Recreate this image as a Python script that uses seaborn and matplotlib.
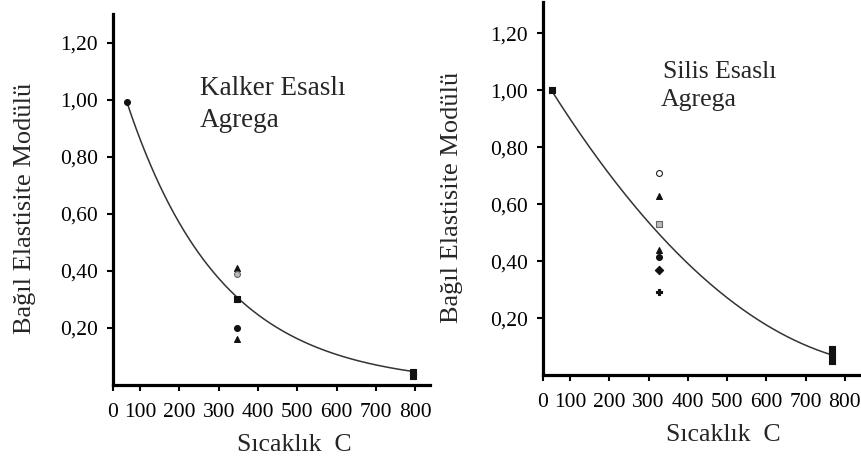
import numpy as np
import pandas as pd
import matplotlib
matplotlib.use("Agg")
import matplotlib.pyplot as plt
import seaborn as sns

sns.set_style("ticks")
plt.rcParams['font.family'] = ['Liberation Serif', 'DejaVu Serif']

# ---- data ----
x_ticks = [100, 200, 300, 400, 500, 600, 700, 800]
y_ticks = [0.20, 0.40, 0.60, 0.80, 1.00, 1.20]
y_tick_labels = ["0,20", "0,40", "0,60", "0,80", "1,00", "1,20"]

kalker_temp = [66, 347, 347, 347, 347, 347, 795, 795]
kalker_val = [0.99, 0.41, 0.39, 0.30, 0.20, 0.16, 0.045, 0.03]
kalker_mark = ["o", "^", "og", "s", "o", "^", "s", "s"]

kalker_curve_temp = [66, 151, 236, 304, 355, 482, 609, 787]
kalker_curve_val = [0.99, 0.716, 0.505, 0.365, 0.306, 0.166, 0.102, 0.049]

silis_temp = [53, 326, 326, 326, 326, 326, 326, 326, 766, 766, 766]
silis_val = [1.00, 0.71, 0.63, 0.53, 0.44, 0.415, 0.37, 0.29, 0.09, 0.07, 0.05]
silis_mark = ["s", "oh", "^", "sg", "^", "o", "D", "P", "s", "s", "s"]

silis_curve_temp = [53, 134, 236, 329, 456, 584, 711, 762]
silis_curve_val = [1.00, 0.833, 0.61, 0.463, 0.34, 0.222, 0.125, 0.07]

W, H = 861, 466
fig = plt.figure(figsize=(W / 100, H / 100), dpi=100)


def ax_rect(x0, x1, ytop, ybot):
    return [x0 / W, 1 - ybot / H, (x1 - x0) / W, (ybot - ytop) / H]


ax1 = fig.add_axes(ax_rect(113, 430, 14, 385))
ax2 = fig.add_axes(ax_rect(543, 861, 2, 375))


def draw(ax, temps, vals, marks, ctemp, cval, logfit, xlim, ylim):
    # smooth trend curve: least-squares fit to points,
    # anchored more strongly at its two ends
    xs = np.linspace(ctemp[0], ctemp[-1], 300)
    w = np.ones(len(ctemp))
    w[0] = w[-1] = 4
    if logfit:
        p = np.polyfit(ctemp, np.log(cval), 2, w=w)
        ys = np.exp(np.polyval(p, xs))
    else:
        p = np.polyfit(ctemp, cval, 2, w=w)
        ys = np.polyval(p, xs)
    sns.lineplot(x=xs, y=ys, ax=ax, color="#333333", lw=1.1, sort=False)
    df = pd.DataFrame({"t": temps, "v": vals, "m": marks})
    for m, g in df.groupby("m"):
        shape = m[0]
        if m.endswith("g"):
            fc, ec = "#bbbbbb", "#666666"
        elif m.endswith("h"):
            fc, ec = "white", "#222222"
        else:
            fc, ec = "#111111", "#111111"
        sns.scatterplot(x=g["t"], y=g["v"], ax=ax, marker=shape, s=18,
                        facecolor=fc, edgecolor=ec, linewidth=0.8, zorder=3)
    ax.set_xlim(*xlim)
    ax.set_ylim(*ylim)
    ax.set_xticks([xlim[0]] + x_ticks)
    ax.set_xticklabels(["0"] + [str(t) for t in x_ticks])
    ax.set_yticks(y_ticks)
    ax.set_yticklabels(y_tick_labels)
    ax.set_xlabel("")
    ax.set_ylabel("")
    for s in ["top", "right"]:
        ax.spines[s].set_visible(False)
    for s in ["left", "bottom"]:
        ax.spines[s].set_linewidth(2.3)
        ax.spines[s].set_color("black")
    ax.tick_params(axis="both", length=4, width=1.5, labelsize=15.5, pad=7,
                   colors="black")
    ax.tick_params(axis="x", pad=9)
    ax.set_facecolor("white")


draw(ax1, kalker_temp, kalker_val, kalker_mark, kalker_curve_temp,
     kalker_curve_val, True, (31, 838), (0, 1.30))
draw(ax2, silis_temp, silis_val, silis_mark, silis_curve_temp,
     silis_curve_val, False, (31, 841), (0, 1.31))

ax1.text(0.274, 0.80, "Kalker Esaslı", transform=ax1.transAxes,
         fontsize=19.5, va="center", ha="left")
ax1.text(0.274, 0.714, "Agrega", transform=ax1.transAxes,
         fontsize=19.5, va="center", ha="left")
ax2.text(0.377, 0.812, "Silis Esaslı", transform=ax2.transAxes,
         fontsize=18.5, va="center", ha="left")
ax2.text(0.370, 0.737, "Agrega", transform=ax2.transAxes,
         fontsize=18.5, va="center", ha="left")

fig.text(294 / W, 1 - 445 / H, "Sıcaklık  C", fontsize=18.5,
         ha="center", va="center")
fig.text(723 / W, 1 - 435 / H, "Sıcaklık  C", fontsize=18.5,
         ha="center", va="center")
fig.text(25 / W, 1 - 208 / H, "Bağıl Elastisite Modülü", fontsize=19,
         ha="center", va="center", rotation=90)
fig.text(452 / W, 1 - 197 / H, "Bağıl Elastisite Modülü", fontsize=19,
         ha="center", va="center", rotation=90)

fig.savefig("out.png", dpi=100, facecolor="white")
